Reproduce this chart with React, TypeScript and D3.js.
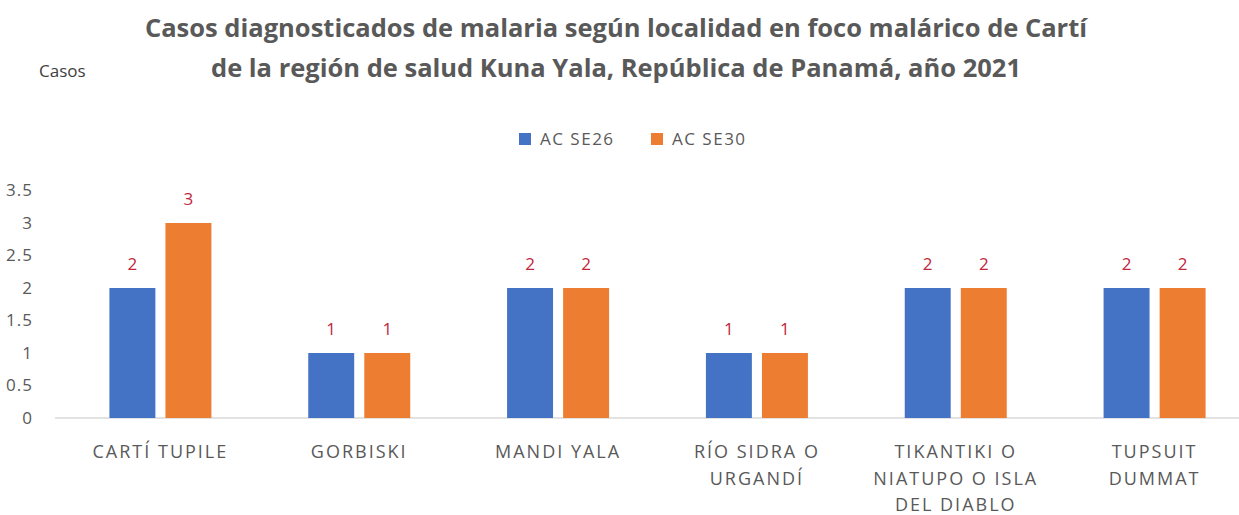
import React from "react";
import * as d3 from "d3";

const categories = [
  ["CARTÍ TUPILE"],
  ["GORBISKI"],
  ["MANDI YALA"],
  ["RÍO SIDRA O", "URGANDÍ"],
  ["TIKANTIKI O", "NIATUPO O ISLA", "DEL DIABLO"],
  ["TUPSUIT", "DUMMAT"],
];
const seriesNames = ["AC SE26", "AC SE30"];
const se26 = [2, 1, 2, 1, 2, 2];
const se30 = [3, 1, 2, 1, 2, 2];
const yTicks = [0, 0.5, 1, 1.5, 2, 2.5, 3, 3.5];
const titleLines = [
  "Casos diagnosticados de malaria según localidad en foco malárico de Cartí",
  "de la región de salud Kuna Yala, República de Panamá, año 2021",
];

const W = 1239;
const H = 515;
const colors = ["#4472C4", "#ED7D31"];
const textGray = "#595959";
const labelRed = "#C0283C";
const font = "'Open Sans', sans-serif";

export default function App() {
  const keys = categories.map((c) => c.join(" "));
  const x0 = d3.scaleBand<string>().domain(keys).range([61, 1254]).padding(0);
  const groupW = 102;
  const x1 = d3.scaleBand<string>().domain(seriesNames).range([0, groupW]).paddingInner(0.18);
  const y = d3.scaleLinear().domain([0, 3.5]).range([418, 190.5]);
  const series = [se26, se30];

  return (
    <svg width={W} height={H} style={{ position: "absolute", left: 0, top: 0, background: "#fff" }}>
      <rect width={W} height={H} fill="#fff" />
      {titleLines.map((t, i) => (
        <text
          key={i}
          x={616}
          y={37 + i * 40}
          textAnchor="middle"
          fontFamily={font}
          fontWeight={700}
          fontSize={25.5}
          fill={textGray}
        >
          {t}
        </text>
      ))}
      <text x={39} y={77} fontFamily={font} fontSize={17} fill="#404040">
        Casos
      </text>
      {/* legend */}
      {seriesNames.map((s, i) => {
        const lx = [519, 651][i];
        return (
          <g key={s}>
            <rect x={lx} y={133} width={12} height={12} fill={colors[i]} />
            <text x={lx + 21} y={145} fontFamily={font} fontSize={17} letterSpacing={1.5} fill={textGray}>
              {s}
            </text>
          </g>
        );
      })}
      {/* y axis labels */}
      {yTicks.map((t) => (
        <text
          key={t}
          x={33}
          y={y(t)}
          dy="0.35em"
          textAnchor="end"
          fontFamily={font}
          fontSize={17}
          letterSpacing={1}
          fill={textGray}
        >
          {String(t)}
        </text>
      ))}
      {/* baseline */}
      <line x1={55} x2={W} y1={y(0)} y2={y(0)} stroke="#D9D9D9" strokeWidth={1.5} />
      {/* bars */}
      {keys.map((k, ci) => {
        const cx = (x0(k) as number) + x0.bandwidth() / 2;
        const gx = cx - groupW / 2;
        return (
          <g key={k}>
            {series.map((vals, si) => {
              const bx = gx + (x1(seriesNames[si]) as number);
              const v = vals[ci];
              return (
                <g key={si}>
                  <rect x={bx} y={y(v)} width={x1.bandwidth()} height={y(0) - y(v)} fill={colors[si]} />
                  <text
                    x={bx + x1.bandwidth() / 2}
                    y={y(v) - 18}
                    textAnchor="middle"
                    fontFamily={font}
                    fontSize={17}
                    fill={labelRed}
                  >
                    {v}
                  </text>
                </g>
              );
            })}
            {categories[ci].map((line, li) => (
              <text
                key={li}
                x={cx}
                y={458 + li * 26.5}
                textAnchor="middle"
                fontFamily={font}
                fontSize={18}
                letterSpacing={2}
                fill={textGray}
              >
                {line}
              </text>
            ))}
          </g>
        );
      })}
    </svg>
  );
}
